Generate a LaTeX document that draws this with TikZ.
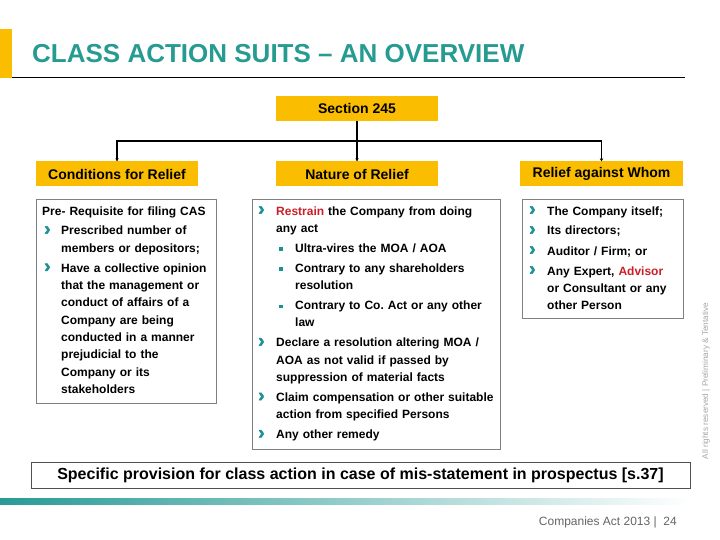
\documentclass[tikz,border=0pt]{standalone}
\usepackage{fontspec}
\setmainfont{Liberation Sans}
\newfontface\chevface{Liberation Sans Bold}[FakeBold=2.5]
\usetikzlibrary{arrows.meta}
\definecolor{ttl}{RGB}{38,155,145}
\definecolor{tealb}{RGB}{30,145,145}
\definecolor{gradteal}{RGB}{40,155,150}
\definecolor{org}{RGB}{251,189,0}
\definecolor{redt}{RGB}{204,30,40}
\definecolor{bordg}{RGB}{128,128,128}
\definecolor{bordd}{RGB}{80,80,80}
\definecolor{footg}{RGB}{100,100,100}
\definecolor{vertg}{RGB}{165,165,165}
\newcommand{\chevg}{\textcolor{tealb}{\chevface\fontsize{19}{12}\selectfont ›}}
\newcommand{\itemA}[2][19pt]{\noindent\hangindent=#1\hangafter=1\makebox[#1][l]{\hspace*{2pt}\chevg}#2\par}
\newcommand{\itemB}[1]{\noindent\hangindent=39pt\hangafter=1\makebox[39pt][l]{\hspace*{23pt}\textcolor{tealb}{\rule[1.5pt]{3.5pt}{3.5pt}}}#1\par}
\begin{document}
\begin{tikzpicture}[x=1pt,y=-1pt,
  hdr/.style={fill=org, draw=none, minimum width=162pt, minimum height=25pt, inner sep=0pt, font=\fontsize{14}{14}\selectfont\bfseries},
  cbox/.style={draw=bordg, line width=1pt, anchor=north west, inner sep=0pt},
  txt/.style={anchor=base west, inner sep=0pt, align=left, font=\fontsize{12}{17.3}\selectfont\bfseries},
  conn/.style={line width=1.5pt, -{Stealth[length=3pt,width=3.5pt]}}]
\useasboundingbox (0,0) rectangle (720,540);
% title
\fill[org] (0,29) rectangle (12,78);
\draw[line width=1pt] (12,78) -- (685,78);
\node[anchor=base west, inner sep=0pt, text=ttl, font=\fontsize{26}{26}\selectfont\bfseries] (title) at (32,62.3) {CLASS ACTION SUITS – AN OVERVIEW};
% headers
\node[hdr] (sec) at (357,108.5) {Section 245};
\node[hdr] (cond) at (117,174) {Conditions for Relief};
\node[hdr] (nat) at (357,174) {Nature of Relief};
\node[hdr, minimum width=163pt] (rel) at (601.5,174) {Relief against Whom};
\coordinate (bus) at (357,141);
\draw[conn] (sec.south) -- (nat.north);
\draw[conn] (bus) -| (cond.north);
\draw[conn] (bus) -| (rel.north);
% content boxes
\node[cbox, minimum width=180pt, minimum height=204pt] (lbox) at (36,199) {};
\node[cbox, minimum width=248pt, minimum height=250pt] (mbox) at (252,199) {};
\node[cbox, minimum width=161pt, minimum height=119pt] (rbox) at (522,199) {};
\node[txt, text width=172pt] (ltxt) at (42,215) {\setlength{\parskip}{2.7pt}%
\noindent Pre- Requisite for filing CAS\par
\itemA{Prescribed number of\newline members or depositors;}%
\itemA{Have a collective opinion\newline that the management or\newline conduct of affairs of a\newline Company are being\newline conducted in a manner\newline prejudicial to the\newline Company or its\newline stakeholders}};
\node[txt, text width=242pt] (mtxt) at (256,215) {\setlength{\parskip}{2.7pt}%
\itemA[20pt]{\textcolor{redt}{Restrain} the Company from doing\newline any act}%
\itemB{Ultra-vires the MOA / AOA}%
\itemB{Contrary to any shareholders\newline resolution}%
\itemB{Contrary to Co.\ Act or any other\newline law}%
\itemA[20pt]{Declare a resolution altering MOA /\newline AOA as not valid if passed by\newline suppression of material facts}%
\itemA[20pt]{Claim compensation or other suitable\newline action from specified Persons}%
\itemA[20pt]{Any other remedy}};
\node[txt, text width=154pt] (rtxt) at (527,215) {\setlength{\parskip}{2.7pt}%
\itemA[20pt]{The Company itself;}%
\itemA[20pt]{Its directors;}%
\itemA[20pt]{Auditor / Firm; or}%
\itemA[20pt]{Any Expert, \textcolor{redt}{Advisor}\newline or Consultant or any\newline other Person}};
% bottom box
\node[draw=bordd, line width=1pt, minimum width=659pt, minimum height=26pt, inner sep=0pt, font=\fontsize{16}{16}\selectfont\bfseries] (spec) at (360.5,475) {Specific provision for class action in case of mis-statement in prospectus [s.37]};
% gradient bar
\shade[left color=gradteal, right color=white] (0,498) rectangle (692,504);
% footer
\node[anchor=east, inner sep=0pt, text=footg, font=\fontsize{12}{12}\selectfont] (foot) at (677,522) {Companies Act 2013 |\ \ 24};
\node[rotate=90, inner sep=0pt, text=vertg, font=\fontsize{8.2}{8.2}\selectfont] (vert) at (706,381) {All rights reserved | Preliminary \& Tentative};
\end{tikzpicture}
\end{document}
